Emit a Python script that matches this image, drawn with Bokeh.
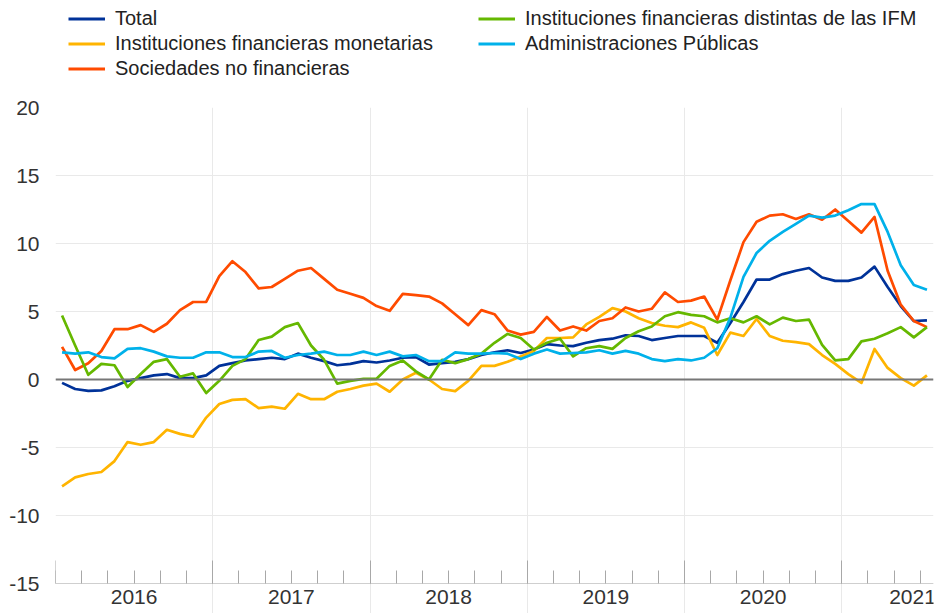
from bokeh.plotting import figure
from bokeh.models import Range1d, FixedTicker, Span, Legend, LegendItem, LinearAxis
from bokeh.layouts import column
from bokeh.embed import file_html
from bokeh.resources import INLINE

# ---------------- data (monthly, Jan 2016 - Jul 2021, % annual growth) -------------
series_names = [
    "Total",
    "Instituciones financieras monetarias",
    "Sociedades no financieras",
    "Instituciones financieras distintas de las IFM",
    "Administraciones Públicas",
]
total = [-0.25, -0.7, -0.83, -0.8, -0.5, -0.1, 0.1, 0.3, 0.4, 0.1, 0.1, 0.3,
         1.0, 1.2, 1.4, 1.5, 1.6, 1.5, 1.9, 1.6, 1.35, 1.05, 1.15, 1.35,
         1.25, 1.4, 1.6, 1.65, 1.1, 1.2, 1.3, 1.5, 1.8, 2.0, 2.15, 1.95,
         2.2, 2.6, 2.5, 2.45, 2.7, 2.9, 3.0, 3.25, 3.2, 2.9, 3.05, 3.2,
         3.2, 3.2, 2.7, 4.15, 5.7, 7.35, 7.35, 7.75, 8.0, 8.2, 7.5, 7.25,
         7.25, 7.5, 8.3, 6.8, 5.4, 4.3, 4.35]
ifm = [-7.85, -7.2, -6.95, -6.8, -6.0, -4.6, -4.8, -4.6, -3.7, -4.0, -4.2, -2.8,
       -1.8, -1.5, -1.45, -2.1, -2.0, -2.15, -1.05, -1.45, -1.45, -0.9, -0.7, -0.45,
       -0.3, -0.9, 0.0, 0.5, 0.0, -0.7, -0.85, -0.1, 1.0, 1.0, 1.3, 1.7,
       2.1, 3.05, 3.05, 3.1, 4.05, 4.6, 5.25, 5.0, 4.5, 4.15, 3.95, 3.85,
       4.2, 3.8, 1.8, 3.45, 3.2, 4.45, 3.2, 2.85, 2.75, 2.6, 1.8, 1.15,
       0.4, -0.25, 2.25, 0.85, 0.1, -0.45, 0.3]
snf = [2.4, 0.7, 1.2, 2.1, 3.7, 3.7, 4.0, 3.5, 4.1, 5.1, 5.7, 5.7,
       7.6, 8.7, 7.9, 6.7, 6.8, 7.4, 8.0, 8.2, 7.4, 6.6, 6.3, 6.0,
       5.4, 5.05, 6.3, 6.2, 6.1, 5.6, 4.8, 4.0, 5.1, 4.8, 3.6, 3.3,
       3.5, 4.6, 3.6, 3.9, 3.6, 4.3, 4.5, 5.3, 5.0, 5.2, 6.4, 5.7,
       5.8, 6.1, 4.4, 7.3, 10.1, 11.6, 12.05, 12.15, 11.8, 12.15, 11.75, 12.5,
       11.65, 10.8, 11.95, 8.0, 5.5, 4.3, 3.85]
ifnm = [4.7, 2.5, 0.35, 1.15, 1.05, -0.55, 0.4, 1.3, 1.5, 0.2, 0.45, -1.0,
        -0.1, 1.0, 1.5, 2.9, 3.15, 3.85, 4.15, 2.5, 1.45, -0.3, -0.1, 0.05,
        0.05, 1.0, 1.4, 0.6, 0.0, 1.45, 1.2, 1.5, 1.9, 2.7, 3.35, 3.05,
        2.2, 2.7, 3.0, 1.7, 2.3, 2.45, 2.25, 3.05, 3.55, 3.9, 4.65, 4.95,
        4.75, 4.65, 4.2, 4.5, 4.2, 4.65, 4.05, 4.55, 4.3, 4.4, 2.55, 1.4,
        1.5, 2.8, 3.0, 3.4, 3.85, 3.1, 3.85]
aapp = [2.0, 1.9, 2.0, 1.65, 1.55, 2.25, 2.3, 2.05, 1.7, 1.6, 1.6, 2.0,
        2.0, 1.65, 1.65, 2.05, 2.1, 1.6, 1.8, 1.9, 2.05, 1.8, 1.8, 2.05,
        1.8, 2.05, 1.7, 1.8, 1.35, 1.35, 2.0, 1.9, 1.9, 1.95, 1.9, 1.5,
        1.9, 2.2, 1.9, 1.95, 2.0, 2.15, 1.9, 2.1, 1.9, 1.5, 1.35, 1.5,
        1.4, 1.6, 2.3, 4.55, 7.55, 9.3, 10.2, 10.85, 11.45, 12.05, 11.9, 12.05,
        12.45, 12.9, 12.9, 10.85, 8.4, 6.95, 6.6]
years = ["2016", "2017", "2018", "2019", "2020", "2021"]
y_ticks = [-15, -10, -5, 0, 5, 10, 15, 20]

colors = ["#003299", "#ffb400", "#ff4b00", "#65b800", "#00b1ea"]
values = [total, ifm, snf, ifnm, aapp]

# ---------------- layout constants ----------------
W = 936
TOP_H = 95
MAIN_H = 518
B_TOP, B_LEFT, B_RIGHT = 12, 55, 3
FRAME_H = MAIN_H - B_TOP
PX_PER_UNIT = 476.0 / (y_ticks[-1] - y_ticks[0])
y_lo = y_ticks[-1] - FRAME_H / PX_PER_UNIT

n = len(total)
x = [i + 0.5 for i in range(n)]
FONT = "Liberation Sans"

# ---------------- main chart ----------------
p = figure(width=W, height=MAIN_H, x_range=Range1d(0, n), y_range=Range1d(y_lo, y_ticks[-1]),
           output_backend="svg", toolbar_location=None,
           min_border_top=B_TOP, min_border_left=B_LEFT, min_border_right=B_RIGHT,
           min_border_bottom=0, outline_line_color=None, background_fill_color="white")

year_bounds = list(range(0, n, 12))
p.xaxis.ticker = FixedTicker(ticks=year_bounds, minor_ticks=list(range(0, n, 2)))
p.xaxis.fixed_location = y_ticks[0]
p.xaxis.axis_line_color = "#cfcfcf"
p.xaxis.major_tick_line_color = "#a8a8a8"
p.xaxis.minor_tick_line_color = "#a8a8a8"
p.xaxis.major_tick_in = 23
p.xaxis.major_tick_out = 0
p.xaxis.minor_tick_in = 13
p.xaxis.minor_tick_out = 0
p.xaxis.major_label_overrides = {t: "" for t in year_bounds}
p.xaxis.major_label_standoff = 0

# second axis carrying the year labels, centred on each year
label_pos = [min(12 * k + 6, n - 1.6) for k in range(len(years))]
year_axis = LinearAxis(ticker=FixedTicker(ticks=label_pos, minor_ticks=[]),
                       fixed_location=y_ticks[0],
                       major_label_overrides={pos: yr for pos, yr in zip(label_pos, years)},
                       axis_line_color=None, major_tick_line_color=None,
                       minor_tick_line_color=None, major_tick_in=0, major_tick_out=0,
                       major_label_standoff=6, major_label_text_font=FONT,
                       major_label_text_font_size="21px", major_label_text_color="#333333")
p.add_layout(year_axis, "below")

p.yaxis.ticker = FixedTicker(ticks=y_ticks)
p.yaxis.major_label_overrides = {t: str(t) for t in y_ticks}
p.yaxis.axis_line_color = None
p.yaxis.major_tick_line_color = None
p.yaxis.minor_tick_line_color = None
p.yaxis.major_label_standoff = 10
p.yaxis.major_label_text_font = FONT
p.yaxis.major_label_text_font_size = "21px"
p.yaxis.major_label_text_color = "#333333"

p.xgrid.ticker = FixedTicker(ticks=year_bounds)
p.ygrid.ticker = FixedTicker(ticks=y_ticks)
p.xgrid.grid_line_color = "#e9e9e9"
p.ygrid.grid_line_color = "#e9e9e9"

p.add_layout(Span(location=0, dimension="width", line_color="#777777", line_width=2))

for vals, c in zip(values, colors):
    p.line(x, vals, line_color=c, line_width=2.7, line_join="round")

# ---------------- legend strip ----------------
leg = figure(width=W, height=TOP_H, x_range=Range1d(0, n), y_range=Range1d(1000, 1001),
             output_backend="svg", toolbar_location=None, min_border=0,
             x_axis_location=None, y_axis_location=None, outline_line_color=None)
leg.xgrid.visible = False
leg.ygrid.visible = False
# legend swatches come from these (out-of-view) renderers
dummies = [leg.line(x, vals, line_color=c, line_width=3) for vals, c in zip(values, colors)]

def make_legend(idx, loc):
    return Legend(items=[LegendItem(label=series_names[i], renderers=[dummies[i]]) for i in idx],
                  location=loc, orientation="vertical", border_line_color=None,
                  background_fill_alpha=0, padding=0, margin=0, spacing=0,
                  glyph_width=37, glyph_height=25, label_height=25, label_standoff=10,
                  label_text_font=FONT, label_text_font_size="20px", label_text_color="#222222")

leg.add_layout(make_legend([0, 1, 2], (13, TOP_H - 80.5)))
leg.add_layout(make_legend([3, 4], (423, TOP_H - 55.5)))

layout = column(leg, p, spacing=0)
open("out.html", "w").write(file_html(layout, INLINE))
